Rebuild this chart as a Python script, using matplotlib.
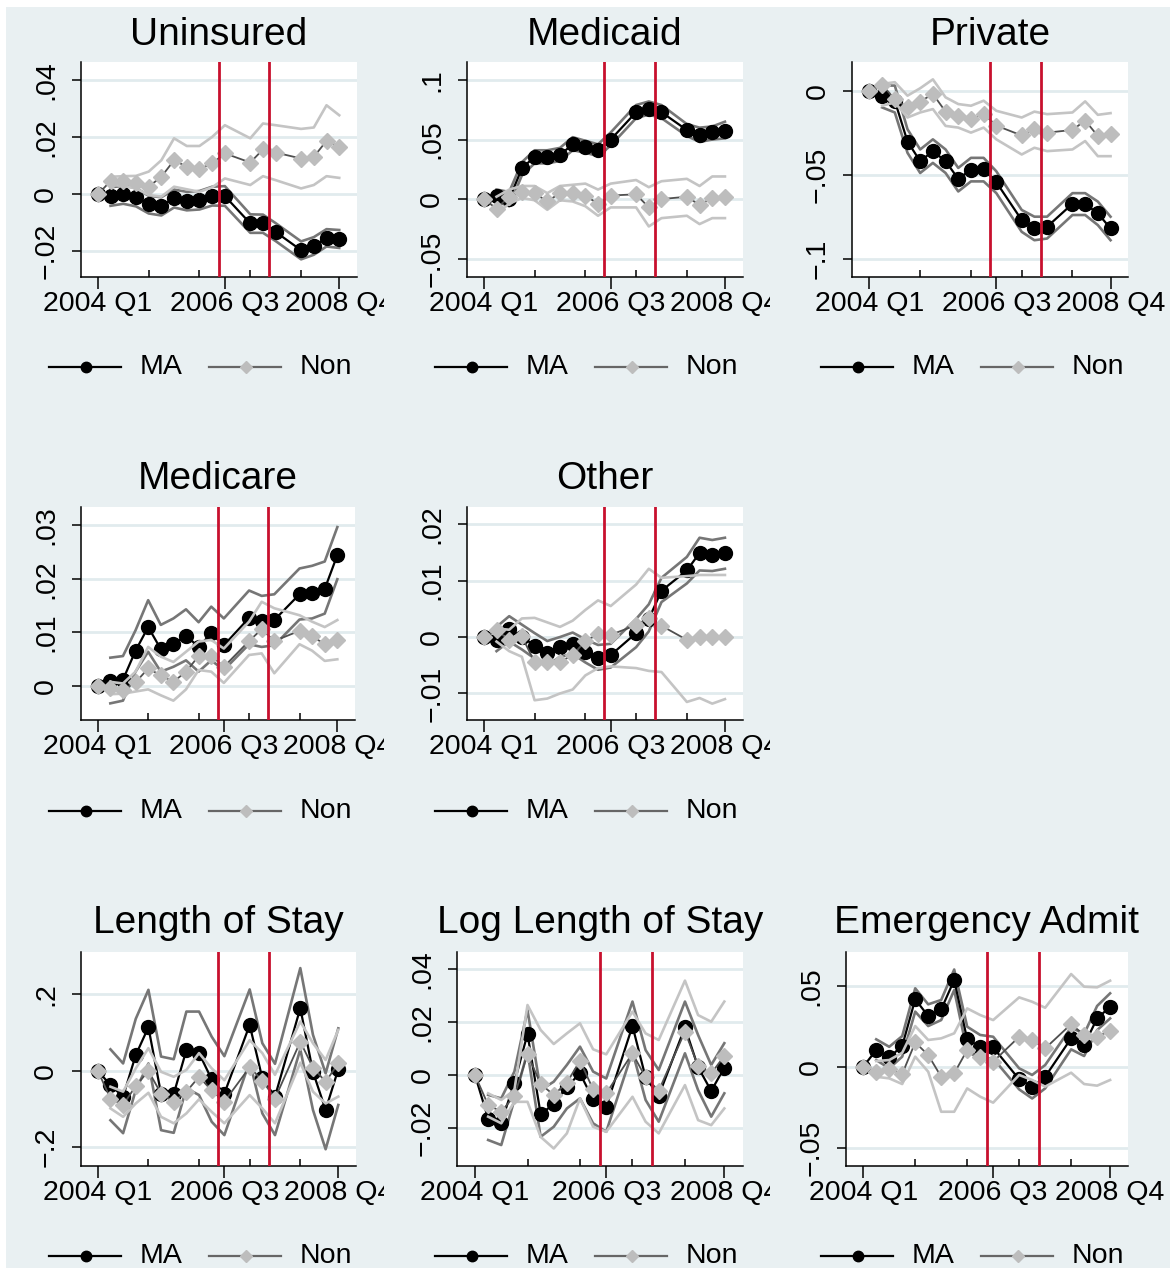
import matplotlib
matplotlib.use('Agg')
import matplotlib.pyplot as plt
from matplotlib.transforms import Bbox, ScaledTranslation
from matplotlib.patches import Rectangle

plt.rcParams['font.family'] = ['Liberation Sans', 'DejaVu Sans']

# ---------------- data ----------------
quarters = [0, 1, 2, 3, 4, 5, 6, 7, 8, 9, 10, 12, 13, 14, 16, 17, 18, 19]
ci_quarters = quarters[1:]
tick_pos = [0, 10, 19]
tick_labels = ['2004 Q1', '2006 Q3', '2008 Q4']
minor_pos = [4, 8, 12, 16]
policy_lines = [9.5, 13.5]
series_names = ['MA', 'Non']

uninsured_ma = [0, -0.0006, 0.0, -0.0008, -0.0035, -0.004, -0.0014, -0.0023, -0.002, -0.0005, -0.0006, -0.0102, -0.0102, -0.0132, -0.0196, -0.0181, -0.0152, -0.0157]
uninsured_ma_hi = [0.0025, 0.003, 0.0023, -0.0005, -0.001, 0.0017, 0.0009, 0.0012, 0.0027, 0.0029, -0.007, -0.0071, -0.0101, -0.0165, -0.015, -0.0122, -0.0125]
uninsured_ma_lo = [-0.004, -0.0033, -0.0042, -0.0067, -0.0074, -0.0046, -0.0056, -0.0053, -0.0039, -0.004, -0.0135, -0.0135, -0.0164, -0.0228, -0.0212, -0.0183, -0.0188]
uninsured_non = [0, 0.0047, 0.0047, 0.0039, 0.0027, 0.0062, 0.012, 0.0097, 0.0089, 0.0109, 0.0144, 0.0112, 0.0158, 0.0147, 0.0126, 0.0132, 0.0188, 0.0167]
uninsured_non_hi = [0.0062, 0.0064, 0.0065, 0.008, 0.012, 0.0197, 0.017, 0.017, 0.0202, 0.0243, 0.0197, 0.0249, 0.0243, 0.023, 0.0235, 0.0313, 0.0278]
uninsured_non_lo = [0.0033, 0.003, 0.0021, -0.0002, -0.0008, 0.0027, 0.0018, 0.0009, 0.0025, 0.0056, 0.0033, 0.0064, 0.005, 0.0021, 0.0033, 0.0064, 0.0058]

medicaid_ma = [0, 0.0028, 0.0, 0.0258, 0.0356, 0.0356, 0.037, 0.046, 0.044, 0.041, 0.050, 0.073, 0.076, 0.073, 0.058, 0.054, 0.056, 0.057]
medicaid_ma_hi = [0.008, 0.006, 0.031, 0.041, 0.041, 0.043, 0.052, 0.049, 0.046, 0.056, 0.079, 0.082, 0.079, 0.063, 0.060, 0.061, 0.065]
medicaid_ma_lo = [-0.002, -0.006, 0.020, 0.030, 0.030, 0.032, 0.041, 0.039, 0.036, 0.045, 0.068, 0.071, 0.068, 0.053, 0.048, 0.050, 0.051]
medicaid_non = [0, -0.008, 0.002, 0.0056, 0.005, -0.002, 0.005, 0.005, 0.003, -0.004, 0.003, 0.004, -0.007, 0.0, 0.002, -0.005, 0.001, 0.0014]
medicaid_non_hi = [0.002, 0.008, 0.011, 0.011, 0.005, 0.011, 0.012, 0.013, 0.008, 0.013, 0.016, 0.010, 0.015, 0.017, 0.011, 0.019, 0.019]
medicaid_non_lo = [-0.012, -0.004, 0.001, -0.001, -0.009, -0.001, -0.002, -0.006, -0.014, -0.007, -0.007, -0.023, -0.016, -0.014, -0.021, -0.016, -0.016]

private_ma = [0, -0.0032, -0.006, -0.0303, -0.042, -0.036, -0.042, -0.0525, -0.047, -0.0465, -0.0545, -0.077, -0.082, -0.081, -0.0673, -0.0675, -0.073, -0.082]
private_ma_hi = [0.003, 0.003, -0.023, -0.035, -0.029, -0.035, -0.046, -0.040, -0.040, -0.048, -0.071, -0.075, -0.075, -0.061, -0.061, -0.066, -0.075]
private_ma_lo = [-0.010, -0.013, -0.037, -0.049, -0.043, -0.049, -0.060, -0.054, -0.054, -0.061, -0.084, -0.089, -0.088, -0.074, -0.074, -0.080, -0.089]
private_non = [0, 0.0034, -0.005, -0.0099, -0.0065, -0.002, -0.0125, -0.0149, -0.017, -0.0139, -0.0208, -0.0267, -0.023, -0.025, -0.0234, -0.0178, -0.027, -0.026]
private_non_hi = [0.004, 0.005, -0.003, 0.0014, 0.0067, -0.004, -0.008, -0.009, -0.006, -0.012, -0.016, -0.0125, -0.014, -0.013, -0.0064, -0.0144, -0.0134]
private_non_lo = [-0.009, -0.007, -0.016, -0.013, -0.011, -0.021, -0.022, -0.025, -0.022, -0.029, -0.038, -0.034, -0.036, -0.035, -0.030, -0.039, -0.039]

medicare_ma = [0, 0.001, 0.0012, 0.0066, 0.011, 0.0069, 0.0078, 0.0094, 0.0073, 0.0098, 0.0076, 0.0127, 0.0121, 0.0123, 0.0171, 0.0174, 0.0181, 0.0244]
medicare_ma_hi = [0.0053, 0.0056, 0.0104, 0.016, 0.0114, 0.0126, 0.0143, 0.0119, 0.0148, 0.0126, 0.0178, 0.0168, 0.0171, 0.0219, 0.0224, 0.0232, 0.0296]
medicare_ma_lo = [-0.0032, -0.0027, 0.0027, 0.0064, 0.0027, 0.0036, 0.0048, 0.0027, 0.0048, 0.003, 0.0078, 0.0073, 0.0076, 0.0124, 0.0126, 0.0135, 0.0199]
medicare_non = [0, -0.0003, -0.0007, 0.0007, 0.0033, 0.002, 0.0008, 0.0027, 0.0056, 0.0057, 0.0036, 0.0084, 0.0106, 0.0084, 0.0103, 0.0093, 0.0078, 0.0086]
medicare_non_hi = [0.0008, 0.0005, 0.0027, 0.0073, 0.0055, 0.0045, 0.0064, 0.0083, 0.0086, 0.007, 0.012, 0.0157, 0.0145, 0.0132, 0.012, 0.011, 0.0123]
medicare_non_lo = [-0.0015, -0.0014, -0.001, -0.0006, -0.0017, -0.0027, -0.0006, 0.003, 0.0027, 0.0006, 0.0058, 0.0061, 0.0024, 0.0078, 0.0066, 0.0047, 0.005]

other_ma = [0, -0.0005, 0.0015, 0.0, -0.0015, -0.0029, -0.0018, -0.0012, -0.0026, -0.0038, -0.0032, 0.0007, 0.0032, 0.0082, 0.0118, 0.0149, 0.0146, 0.0149]
other_ma_hi = [0.0018, 0.0037, 0.0022, 0.0007, -0.0007, 0.0, 0.0008, -0.0004, -0.0014, -0.0012, 0.0032, 0.0058, 0.0105, 0.0142, 0.0176, 0.0172, 0.0176]
other_ma_lo = [-0.0025, -0.0008, -0.0022, -0.0038, -0.005, -0.0035, -0.003, -0.0045, -0.0058, -0.0054, -0.0018, 0.001, 0.0062, 0.0095, 0.0118, 0.0117, 0.0121]
other_non = [0, 0.0012, -0.0005, 0.0001, -0.0044, -0.0045, -0.0044, -0.0032, -0.0007, 0.0005, 0.0004, 0.0021, 0.0034, 0.002, -0.0005, 0.0, 0.0, 0.0]
other_non_hi = [0.0015, 0.0013, 0.0033, 0.0034, 0.0026, 0.0018, 0.0029, 0.0048, 0.0065, 0.0055, 0.0093, 0.0121, 0.0105, 0.0108, 0.011, 0.011, 0.011]
other_non_lo = [-0.0008, -0.0025, -0.0035, -0.0112, -0.0109, -0.01, -0.0093, -0.0068, -0.0055, -0.0052, -0.0055, -0.006, -0.0062, -0.0115, -0.0108, -0.0118, -0.011]

los_ma = [0, -0.038, -0.068, 0.041, 0.114, -0.061, -0.061, 0.054, 0.046, -0.023, -0.060, 0.12, -0.020, -0.068, 0.164, -0.003, -0.103, 0.004]
los_ma_hi = [0.056, 0.019, 0.136, 0.212, 0.037, 0.03, 0.155, 0.155, 0.089, 0.038, 0.213, 0.072, 0.018, 0.269, 0.094, -0.007, 0.111]
los_ma_lo = [-0.13, -0.164, -0.051, 0.019, -0.156, -0.163, -0.046, -0.064, -0.134, -0.169, 0.024, -0.112, -0.169, 0.056, -0.103, -0.206, -0.09]
los_non = [0, -0.073, -0.09, -0.04, -0.001, -0.06, -0.081, -0.055, -0.016, -0.052, -0.081, 0.009, -0.026, -0.073, 0.076, 0.008, -0.029, 0.019]
los_non_hi = [-0.042, -0.055, 0.006, 0.059, -0.003, -0.016, 0.002, 0.046, 0.006, -0.025, 0.08, 0.046, -0.011, 0.129, 0.072, 0.028, 0.107]
los_non_lo = [-0.099, -0.121, -0.086, -0.058, -0.121, -0.138, -0.112, -0.075, -0.108, -0.138, -0.064, -0.099, -0.138, 0.021, -0.055, -0.086, -0.068]

loglos_ma = [0, -0.0164, -0.018, -0.0029, 0.0155, -0.0147, -0.011, -0.0044, 0.0006, -0.0092, -0.012, 0.0185, -0.0009, -0.0078, 0.018, 0.003, -0.006, 0.0028]
loglos_ma_hi = [-0.0075, -0.0088, 0.0013, 0.0245, -0.0057, -0.0025, 0.0038, 0.0107, 0.0013, -0.0013, 0.0277, 0.0094, 0.0019, 0.0277, 0.0151, 0.0038, 0.012]
loglos_ma_lo = [-0.0245, -0.0264, -0.0094, 0.0088, -0.0233, -0.0195, -0.0126, -0.0088, -0.0182, -0.0214, 0.0088, -0.0094, -0.0176, 0.0082, -0.0057, -0.0157, -0.0069]
loglos_non = [0, -0.0113, -0.0138, -0.0079, 0.0079, -0.0034, -0.0075, -0.0029, 0.0054, -0.0054, -0.0069, 0.0082, -0.0009, -0.0059, 0.0164, 0.0034, 0.0006, 0.0072]
loglos_non_hi = [-0.0069, -0.0094, -0.0057, 0.0264, 0.017, 0.0117, 0.0157, 0.0195, 0.0097, 0.0078, 0.0239, 0.0157, 0.0132, 0.0356, 0.0226, 0.0201, 0.0277]
loglos_non_lo = [-0.0157, -0.0182, -0.0101, -0.0101, -0.0233, -0.0277, -0.022, -0.0088, -0.0195, -0.0214, -0.0082, -0.0176, -0.022, -0.0038, -0.017, -0.0189, -0.0126]

emerg_ma = [0, 0.0103, 0.0058, 0.0128, 0.0416, 0.0313, 0.0354, 0.0535, 0.0169, 0.0123, 0.0119, -0.0078, -0.0123, -0.0062, 0.0175, 0.0134, 0.0298, 0.037]
emerg_ma_hi = [0.0169, 0.0123, 0.0189, 0.0484, 0.0385, 0.0412, 0.060, 0.0247, 0.0196, 0.0185, -0.001, -0.0051, 0.001, 0.0243, 0.0202, 0.0375, 0.0453]
emerg_ma_lo = [0.0041, -0.001, 0.0062, 0.034, 0.0251, 0.0288, 0.0473, 0.0093, 0.0051, 0.0051, -0.014, -0.0196, -0.0134, 0.0107, 0.0066, 0.0226, 0.0298]
emerg_non = [0, -0.0031, -0.0014, -0.0045, 0.015, 0.0072, -0.0062, -0.0041, 0.0103, 0.0062, 0.0031, 0.0185, 0.0165, 0.0113, 0.0263, 0.0196, 0.0185, 0.0222]
emerg_non_hi = [0.0035, 0.0041, 0.0086, 0.0251, 0.0165, 0.0175, 0.0206, 0.036, 0.0319, 0.0288, 0.0428, 0.0401, 0.0364, 0.0572, 0.0494, 0.049, 0.0531]
emerg_non_lo = [-0.0062, -0.0072, -0.0107, 0.0062, -0.0031, -0.0278, -0.0278, -0.0134, -0.0185, -0.0222, -0.0051, -0.0082, -0.0123, -0.0037, -0.0107, -0.0117, -0.0082]

panel_titles = ['Uninsured', 'Medicaid', 'Private', 'Medicare', 'Other',
                'Length of Stay', 'Log Length of Stay', 'Emergency Admit']
panel_series = [
    (uninsured_ma, uninsured_ma_lo, uninsured_ma_hi, uninsured_non, uninsured_non_lo, uninsured_non_hi),
    (medicaid_ma, medicaid_ma_lo, medicaid_ma_hi, medicaid_non, medicaid_non_lo, medicaid_non_hi),
    (private_ma, private_ma_lo, private_ma_hi, private_non, private_non_lo, private_non_hi),
    (medicare_ma, medicare_ma_lo, medicare_ma_hi, medicare_non, medicare_non_lo, medicare_non_hi),
    (other_ma, other_ma_lo, other_ma_hi, other_non, other_non_lo, other_non_hi),
    (los_ma, los_ma_lo, los_ma_hi, los_non, los_non_lo, los_non_hi),
    (loglos_ma, loglos_ma_lo, loglos_ma_hi, loglos_non, loglos_non_lo, loglos_non_hi),
    (emerg_ma, emerg_ma_lo, emerg_ma_hi, emerg_non, emerg_non_lo, emerg_non_hi),
]
panel_yticks = [
    ([0.04, 0.02, 0, -0.02], ['.04', '.02', '0', '\u2212.02']),
    ([0.1, 0.05, 0, -0.05], ['.1', '.05', '0', '\u2212.05']),
    ([0, -0.05, -0.1], ['0', '\u2212.05', '\u2212.1']),
    ([0.03, 0.02, 0.01, 0], ['.03', '.02', '.01', '0']),
    ([0.02, 0.01, 0, -0.01], ['.02', '.01', '0', '\u2212.01']),
    ([0.2, 0, -0.2], ['.2', '0', '\u2212.2']),
    ([0.04, 0.02, 0, -0.02], ['.04', '.02', '0', '\u2212.02']),
    ([0.05, 0, -0.05], ['.05', '0', '\u2212.05']),
]

# ---------------- layout (pixels) ----------------
W, H = 1176, 1274
panel_ylim = [(-0.0289, 0.0466), (-0.0652, 0.1154), (-0.1107, 0.0172), (-0.0063, 0.0334),
              (-0.0147, 0.0231), (-0.250, 0.312), (-0.0343, 0.0465), (-0.0613, 0.071)]
panel_box = [(80.7, 61.7, 357, 276.7), (466.7, 61.7, 742.7, 276.7), (852.3, 61.7, 1128.3, 276.7),
             (80.7, 506.7, 355, 720), (466.7, 506.7, 742.7, 720),
             (80.7, 951.7, 356, 1166), (457.3, 951.7, 742.7, 1166), (845.7, 951.7, 1128.3, 1166)]
panel_col = [0, 1, 2, 0, 1, 0, 1, 2]
panel_row = [0, 0, 0, 1, 1, 2, 2, 2]
col_offset = [0, 386, 772]
col_clip = [384, 770, 1176]
title_y = [35, 479, 923]
legend_y = [367, 811, 1256]

BG = '#e9f0f2'
GRID = '#e1ebee'
RED = '#c8102e'
MA_CI = '#767676'
NON_CI = '#c4c4c4'
NON_LINE = '#4f4f4f'
NON_MK = '#bdbdbd'

fig = plt.figure(figsize=(W / 100, H / 100), dpi=100, facecolor='white')

ov = fig.add_axes([0, 0, 1, 1], zorder=-10)
ov.set_xlim(0, W)
ov.set_ylim(H, 0)
ov.axis('off')
ov.add_patch(Rectangle((6, 7), W - 12, H - 13, facecolor=BG, edgecolor='none'))

FS = 20.5
for i, title in enumerate(panel_titles):
    l, t, r, b = panel_box[i]
    ax = fig.add_axes([l / W, 1 - b / H, (r - l) / W, (b - t) / H])
    ax.set_facecolor('white')
    ma, ma_lo, ma_hi, non, non_lo, non_hi = panel_series[i]

    ax.plot(ci_quarters, ma_hi, color=MA_CI, lw=1.9, zorder=2)
    ax.plot(ci_quarters, ma_lo, color=MA_CI, lw=1.9, zorder=2)
    ax.plot(quarters, ma, color='black', lw=1.6, marker='o', ms=10,
            markerfacecolor='black', markeredgecolor='black', zorder=3)
    ax.plot(ci_quarters, non_hi, color=NON_CI, lw=1.9, zorder=4)
    ax.plot(ci_quarters, non_lo, color=NON_CI, lw=1.9, zorder=4)
    ax.plot(quarters, non, color=NON_LINE, lw=1.3, marker='D', ms=7.8,
            markerfacecolor=NON_MK, markeredgecolor=NON_MK, zorder=5)
    for xv in policy_lines:
        ax.axvline(xv, color=RED, lw=2.0, zorder=6)

    ax.set_xlim(-1.35, 20.4)
    ax.set_ylim(*panel_ylim[i])
    yt, ytl = panel_yticks[i]
    ax.set_yticks(yt)
    ax.set_yticklabels(ytl, rotation=90, va='center', fontsize=FS)
    ax.yaxis.grid(True, color=GRID, lw=2)
    ax.set_axisbelow(True)
    ax.tick_params(axis='y', direction='out', length=6.5, width=1.1, pad=9)

    ax.set_xticks(tick_pos)
    ax.set_xticklabels([])
    ax.set_xticks(minor_pos, minor=True)
    ax.tick_params(axis='x', which='major', direction='out', length=8.5, width=1.1)
    ax.tick_params(axis='x', which='minor', direction='in', length=5, width=1.1)

    for s in ['top', 'right']:
        ax.spines[s].set_visible(False)
    for s in ['left', 'bottom']:
        ax.spines[s].set_linewidth(1.1)

    col = panel_col[i]
    row = panel_row[i]
    clip = Bbox([[0, 0], [col_clip[col], H]])
    trans = ax.get_xaxis_transform() + ScaledTranslation(0, -34 / 100, fig.dpi_scale_trans)
    for xv, lab in zip(tick_pos, tick_labels):
        tx = fig.text(xv, 0, lab, transform=trans, ha='center', va='baseline', fontsize=FS)
        tx.set_clip_box(clip)
        tx.set_clip_on(True)

    fig.text(((l + r) / 2) / W, 1 - title_y[row] / H, title, ha='center', va='center', fontsize=28)

    # legend
    off = col_offset[col]
    ly = legend_y[row]
    ov.plot([49 + off, 121 + off], [ly, ly], color='black', lw=1.6)
    ov.plot([85.5 + off], [ly], marker='o', ms=7.5, color='black')
    ov.text(140 + off, ly, series_names[0], ha='left', va='center', fontsize=FS)
    ov.plot([209 + off, 281 + off], [ly, ly], color='#666666', lw=1.6)
    ov.plot([245.5 + off], [ly], marker='D', ms=5.8, color=NON_MK)
    ov.text(300 + off, ly, series_names[1], ha='left', va='center', fontsize=FS)

fig.savefig('out.png', dpi=100, facecolor='white')
